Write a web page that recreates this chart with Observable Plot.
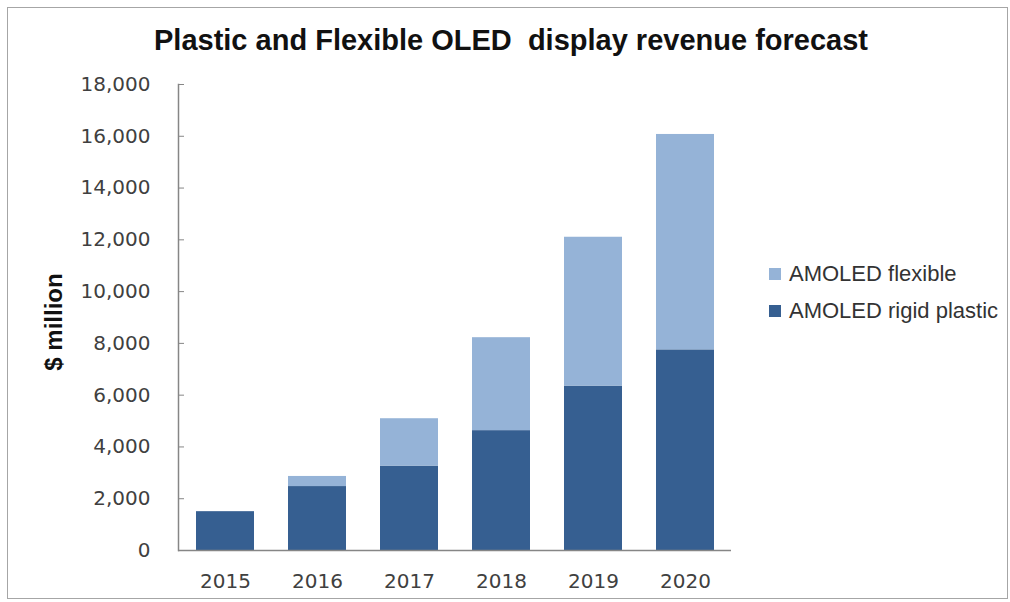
<!DOCTYPE html>
<html>
<head>
<meta charset="utf-8">
<script src="https://cdn.jsdelivr.net/npm/d3@7"></script>
<script src="https://cdn.jsdelivr.net/npm/@observablehq/plot@0.6"></script>
<style>
  html, body { margin: 0; padding: 0; background: #fff; }
  #wrap { position: relative; width: 1010px; height: 602px; overflow: hidden; background: #fff; }
  #border { position: absolute; left: 7px; top: 7px; width: 1001px; height: 592px; border: 1.5px solid #a6a6a6; box-sizing: border-box; }
  #title { position: absolute; left: 0; top: 26px; width: 1022px; text-align: center; font-family: "Liberation Sans", Arial, sans-serif; font-weight: bold; font-size: 29px; line-height: 28px; color: #111; white-space: pre; }
  #ylabel { position: absolute; left: 54px; top: 322px; transform: translate(-50%, -50%) rotate(-90deg); font-family: "Liberation Sans", Arial, sans-serif; font-weight: bold; font-size: 24px; color: #111; white-space: nowrap; }
  #legend { position: absolute; left: 769px; top: 0; font-family: "Liberation Sans", Arial, sans-serif; font-size: 22px; color: #333; }
  .item { position: absolute; left: 0; display: flex; align-items: center; white-space: nowrap; height: 24px; }
  .sw { width: 12px; height: 12px; margin-right: 8px; }
  #chart { position: absolute; left: 0; top: 0; }
</style>
</head>
<body>
<div id="wrap">
  <div id="border"></div>
  <div id="chart"></div>
  <div id="title"></div>
  <div id="ylabel"></div>
  <div id="legend"></div>
</div>
<script>
const title = "Plastic and Flexible OLED  display revenue forecast";
const yLabel = "$ million";
const years = ["2015", "2016", "2017", "2018", "2019", "2020"];
const seriesNames = ["AMOLED flexible", "AMOLED rigid plastic"];
const seriesColors = ["#95B3D7", "#365F91"];
const rigidPlastic = [1500, 2470, 3260, 4630, 6350, 7750];
const flexible = [0, 390, 1830, 3590, 5750, 8320];
const yTicks = [0, 2000, 4000, 6000, 8000, 10000, 12000, 14000, 16000, 18000];

// Build rows: rigid first (bottom of stack), then flexible
const rows = [];
years.forEach((y, i) => rows.push({year: y, series: seriesNames[1], value: rigidPlastic[i]}));
years.forEach((y, i) => rows.push({year: y, series: seriesNames[0], value: flexible[i]}));

document.getElementById("title").textContent = title;
document.getElementById("ylabel").textContent = yLabel;

const legend = document.getElementById("legend");
const legendTops = [262, 299];
seriesNames.forEach((name, i) => {
  const it = document.createElement("div");
  it.className = "item";
  it.style.top = legendTops[i] + "px";
  const sw = document.createElement("div");
  sw.className = "sw";
  sw.style.background = seriesColors[i];
  const tx = document.createElement("span");
  tx.textContent = name;
  it.appendChild(sw);
  it.appendChild(tx);
  legend.appendChild(it);
});

const axisColor = "#868686";
const plot = Plot.plot({
  width: 1010,
  height: 602,
  marginLeft: 178,
  marginRight: 279,
  marginTop: 84,
  marginBottom: 52,
  style: {background: "transparent", fontFamily: "DejaVu Sans, sans-serif", fontSize: "20px", color: "#404040"},
  x: {domain: years, paddingInner: 0.37, paddingOuter: 0.185, label: null},
  y: {domain: [0, 18000], label: null},
  color: {domain: seriesNames, range: seriesColors},
  marks: [
    Plot.barY(rows, {x: "year", y: "value", fill: "series"}),
    Plot.ruleY([0], {stroke: axisColor, strokeWidth: 1.5}),
    Plot.frame({anchor: "left", stroke: axisColor, strokeWidth: 1.5}),
    Plot.axisY({ticks: yTicks, tickSize: -6, tickPadding: 34, tickFormat: d3.format(","), stroke: axisColor, fill: "#404040", label: null}),
    Plot.axisX({tickSize: 0, tickPadding: 23, fill: "#404040", label: null})
  ]
});
document.getElementById("chart").appendChild(plot);
</script>
</body>
</html>
